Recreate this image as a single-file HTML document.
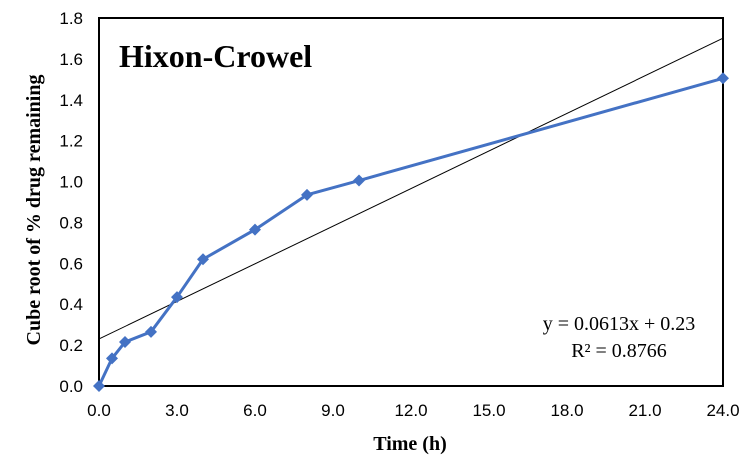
<!DOCTYPE html>
<html><head><meta charset="utf-8"><style>body{margin:0;background:#fff}svg{display:block}</style></head>
<body>
<svg width="755" height="469" id="c">
<rect x="0" y="0" width="755" height="469" fill="#fff"/>
<g id="g"></g>
<text x="119" y="67" font-family="Liberation Serif, serif" font-weight="bold" font-size="32">Hixon-Crowel</text>
<text x="619" y="330" text-anchor="middle" font-family="Liberation Serif, serif" font-size="20">y = 0.0613x + 0.23</text>
<text x="619" y="357" text-anchor="middle" font-family="Liberation Serif, serif" font-size="20">R² = 0.8766</text>
<text x="410" y="450" text-anchor="middle" font-family="Liberation Serif, serif" font-weight="bold" font-size="20">Time (h)</text>
<text transform="translate(40,210) rotate(-90)" text-anchor="middle" font-family="Liberation Serif, serif" font-weight="bold" font-size="20">Cube root of % drug remaining</text>
</svg>
<script>
const xVals=[0,0.5,1,2,3,4,6,8,10,24];
const yVals=[0,0.135,0.215,0.265,0.435,0.62,0.765,0.935,1.005,1.505];
const xTicks=[0,3,6,9,12,15,18,21,24];
const yTicks=[0,0.2,0.4,0.6,0.8,1.0,1.2,1.4,1.6,1.8];
const slope=0.0613, intercept=0.23;
const X0=99,X1=723,Y0=386,Y1=18;
const sx=v=>X0+(v/24)*(X1-X0);
const sy=v=>Y0-(v/1.8)*(Y0-Y1);
const NS='http://www.w3.org/2000/svg';
const g=document.getElementById('g');
function mk(t,a){const e=document.createElementNS(NS,t);for(const k in a)e.setAttribute(k,a[k]);g.appendChild(e);return e;}
let e=mk('rect',{x:X0,y:Y1,width:X1-X0,height:Y0-Y1,fill:'none',stroke:'#000','stroke-width':2});


xTicks.forEach(t=>{
 let tx=mk('text',{x:sx(t),y:Y0+30,'text-anchor':'middle','font-family':'Liberation Sans, sans-serif','font-size':17});
 tx.textContent=t.toFixed(1);
 
 
});
yTicks.forEach(t=>{
 let tx=mk('text',{x:X0-16,y:sy(t)+6,'text-anchor':'end','font-family':'Liberation Sans, sans-serif','font-size':17});
 tx.textContent=t.toFixed(1);
 
 
});
let tl=mk('line',{x1:sx(0),y1:sy(intercept),x2:sx(24),y2:sy(intercept+slope*24),stroke:'#000','stroke-width':1});


let pl=mk('polyline',{points:xVals.map((x,i)=>sx(x)+','+sy(yVals[i])).join(' '),fill:'none',stroke:'#4472C4','stroke-width':3,'stroke-linejoin':'round'});


xVals.forEach((x,i)=>{
 const cx=sx(x),cy=sy(yVals[i]),r=6;
 let p=mk('polygon',{points:`${cx},${cy-r} ${cx+r},${cy} ${cx},${cy+r} ${cx-r},${cy}`,fill:'#4472C4'});
 
 
});
</script>
</body></html>
